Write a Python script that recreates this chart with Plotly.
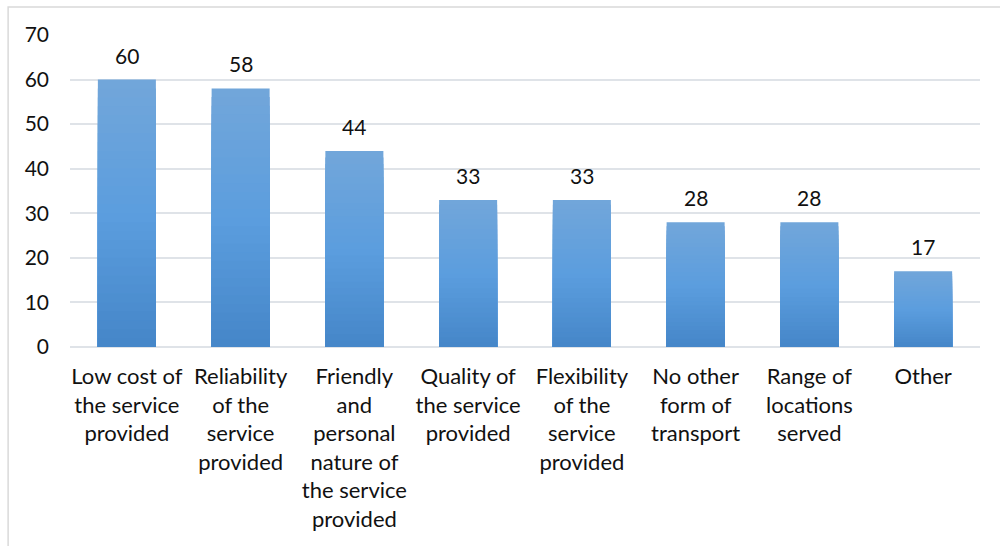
import plotly.graph_objects as go

# Reasons for using the service (number of respondents)
categories = [
    "Low cost of<br>the service<br>provided",
    "Reliability<br>of the<br>service<br>provided",
    "Friendly<br>and<br>personal<br>nature of<br>the service<br>provided",
    "Quality of<br>the service<br>provided",
    "Flexibility<br>of the<br>service<br>provided",
    "No other<br>form of<br>transport",
    "Range of<br>locations<br>served",
    "Other",
]
values = [60, 58, 44, 33, 33, 28, 28, 17]
y_ticks = [0, 10, 20, 30, 40, 50, 60, 70]

FONT = "Lato"
TEXT = "#111111"
BAR_WIDTH = 0.51

# vertical fill gradient of each bar: (fraction of bar height, rgb)
GRADIENT = [(0.0, (68, 133, 199)), (0.5, (91, 157, 222)), (1.0, (113, 166, 218))]
N_LAYERS = 30


def gradient_color(t):
    for (t0, c0), (t1, c1) in zip(GRADIENT[:-1], GRADIENT[1:]):
        if t0 <= t <= t1:
            u = (t - t0) / (t1 - t0)
            r, g, b = (round(a + (bb - a) * u) for a, bb in zip(c0, c1))
            return f"rgb({r},{g},{b})"
    return "rgb(%d,%d,%d)" % GRADIENT[-1][1]


x_pos = list(range(len(categories)))
fig = go.Figure()

# Overlaid layers, tallest first, shading each bar from its top down to the axis
for k in range(N_LAYERS):
    frac = 1 - k / N_LAYERS
    fig.add_trace(
        go.Bar(
            x=x_pos,
            y=[v * frac for v in values],
            width=BAR_WIDTH,
            marker=dict(color=gradient_color(frac), line=dict(width=0)),
            hoverinfo="skip" if k else "y",
            showlegend=False,
        )
    )

# Value labels above the bars
annotations = [
    dict(
        x=x, y=v, xref="x", yref="y", text=str(v), showarrow=False,
        yanchor="bottom", yshift=10,
        font=dict(family=FONT, size=21, color=TEXT),
    )
    for x, v in zip(x_pos, values)
]

fig.update_layout(
    width=1000,
    height=546,
    margin=dict(l=70, r=20, t=35, b=199),
    paper_bgcolor="white",
    plot_bgcolor="white",
    barmode="overlay",
    showlegend=False,
    font=dict(family=FONT, size=21, color=TEXT),
    annotations=annotations,
    xaxis=dict(
        tickmode="array",
        tickvals=x_pos,
        ticktext=categories,
        range=[-0.5, len(categories) - 0.5],
        showgrid=False,
        showline=False,
        ticks="",
        ticklabelstandoff=14,
        tickfont=dict(family=FONT, size=22, color=TEXT),
    ),
    yaxis=dict(
        range=[0, 70],
        tickmode="array",
        tickvals=y_ticks,
        showgrid=True,
        gridcolor="#dfe3e8",
        gridwidth=1.5,
        zeroline=True,
        zerolinecolor="#dfe3e8",
        zerolinewidth=1.5,
        ticks="",
        ticklabelstandoff=20,
        tickfont=dict(family=FONT, size=21, color=TEXT),
    ),
    shapes=[
        dict(
            type="rect", xref="paper", yref="paper",
            x0=-0.068, x1=1.1, y0=-2, y1=1.09,
            line=dict(color="#d9d9d9", width=1.5), fillcolor="rgba(0,0,0,0)",
            layer="below",
        )
    ],
)

fig.write_html("out.html")
